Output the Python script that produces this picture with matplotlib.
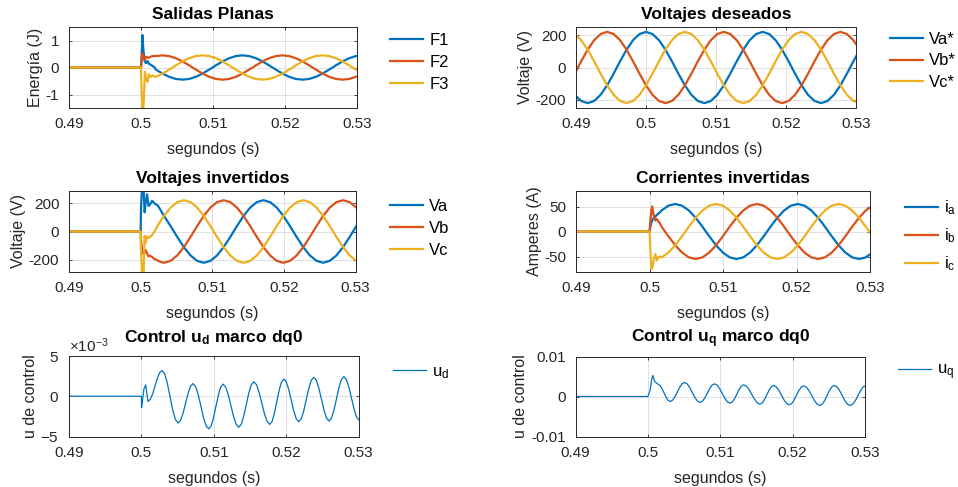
import matplotlib
matplotlib.use('Agg')
import matplotlib.pyplot as plt
from matplotlib.ticker import ScalarFormatter

plt.rcParams['font.family'] = ['Liberation Sans', 'DejaVu Sans']
plt.rcParams['mathtext.fontset'] = 'custom'
plt.rcParams['mathtext.rm'] = 'Liberation Sans'
plt.rcParams['mathtext.it'] = 'Liberation Sans:italic'
plt.rcParams['mathtext.bf'] = 'Liberation Sans:bold'
plt.rcParams['axes.unicode_minus'] = False

# colores por defecto de MATLAB
azul, rojo, amarillo = '#0072BD', '#D95319', '#EDB120'

xticks = [0.49, 0.5, 0.51, 0.52, 0.53]
xtick_labels = ['0.49', '0.5', '0.51', '0.52', '0.53']

# ---------------- Salidas planas ----------------
t_tr_f = [0.49, 0.5, 0.50008, 0.5002, 0.50032, 0.50045, 0.50056, 0.5007, 0.5009, 0.5011, 0.5013, 0.5016, 0.5019]
F1_tr = [0, 0, 0.4, 1.2, 0.7, 0.35, 0.2, 0.16, 0.24, 0.14, 0.11, 0.06, 0.0]
F2_tr = [0, 0, 0.25, 0.52, 0.38, 0.28, 0.3, 0.4, 0.37, 0.36, 0.4, 0.42, 0.43]
F3_tr = [0, 0, -0.9, -1.6, -1.6, -0.8, -0.16, -0.4, -0.53, -0.25, -0.35, -0.3, -0.33]
t_f = [0.502063, 0.502989, 0.503915, 0.504841, 0.505767, 0.506693, 0.507619, 0.508544,
       0.509470, 0.510396, 0.511322, 0.512248, 0.513174, 0.514100, 0.515026, 0.515952,
       0.516878, 0.517804, 0.518730, 0.519656, 0.520581, 0.521507, 0.522433, 0.523359,
       0.524285, 0.525211, 0.526137, 0.527063, 0.527989, 0.528915, 0.529841, 0.530767]
F1 = [-0.078, -0.225, -0.345, -0.423, -0.45, -0.423, -0.345, -0.225, -0.078, 0.078, 0.225,
      0.345, 0.423, 0.45, 0.423, 0.345, 0.225, 0.078, -0.078, -0.225, -0.345, -0.423, -0.45,
      -0.423, -0.345, -0.225, -0.078, 0.078, 0.225, 0.345, 0.423, 0.45]
F2 = [0.423, 0.45, 0.423, 0.345, 0.225, 0.078, -0.078, -0.225, -0.345, -0.423, -0.45, -0.423,
      -0.345, -0.225, -0.078, 0.078, 0.225, 0.345, 0.423, 0.45, 0.423, 0.345, 0.225, 0.078,
      -0.078, -0.225, -0.345, -0.423, -0.45, -0.423, -0.345, -0.225]
F3 = [-0.345, -0.225, -0.078, 0.078, 0.225, 0.345, 0.423, 0.45, 0.423, 0.345, 0.225, 0.078,
      -0.078, -0.225, -0.345, -0.423, -0.45, -0.423, -0.345, -0.225, -0.078, 0.078, 0.225,
      0.345, 0.423, 0.45, 0.423, 0.345, 0.225, 0.078, -0.078, -0.225]

# ---------------- Voltajes deseados ----------------
t_vd = [0.489815, 0.490741, 0.491667, 0.492593, 0.493519, 0.494444, 0.495370, 0.496296,
        0.497222, 0.498148, 0.499074, 0.500000, 0.500926, 0.501852, 0.502778, 0.503704,
        0.504630, 0.505556, 0.506481, 0.507407, 0.508333, 0.509259, 0.510185, 0.511111,
        0.512037, 0.512963, 0.513889, 0.514815, 0.515741, 0.516667, 0.517593, 0.518519,
        0.519444, 0.520370, 0.521296, 0.522222, 0.523148, 0.524074, 0.525000, 0.525926,
        0.526852, 0.527778, 0.528704, 0.529630, 0.530556]
Va_ref = [-168.5, -206.7, -220, -206.7, -168.5, -110, -38.2, 38.2, 110, 168.5, 206.7, 220,
          206.7, 168.5, 110, 38.2, -38.2, -110, -168.5, -206.7, -220, -206.7, -168.5, -110,
          -38.2, 38.2, 110, 168.5, 206.7, 220, 206.7, 168.5, 110, 38.2, -38.2, -110, -168.5,
          -206.7, -220, -206.7, -168.5, -110, -38.2, 38.2, 110]
Vb_ref = [-38.2, 38.2, 110, 168.5, 206.7, 220, 206.7, 168.5, 110, 38.2, -38.2, -110, -168.5,
          -206.7, -220, -206.7, -168.5, -110, -38.2, 38.2, 110, 168.5, 206.7, 220, 206.7,
          168.5, 110, 38.2, -38.2, -110, -168.5, -206.7, -220, -206.7, -168.5, -110, -38.2,
          38.2, 110, 168.5, 206.7, 220, 206.7, 168.5, 110]
Vc_ref = [206.7, 168.5, 110, 38.2, -38.2, -110, -168.5, -206.7, -220, -206.7, -168.5, -110,
          -38.2, 38.2, 110, 168.5, 206.7, 220, 206.7, 168.5, 110, 38.2, -38.2, -110, -168.5,
          -206.7, -220, -206.7, -168.5, -110, -38.2, 38.2, 110, 168.5, 206.7, 220, 206.7,
          168.5, 110, 38.2, -38.2, -110, -168.5, -206.7, -220]

# ---------------- Voltajes invertidos ----------------
t_tr_v = [0.49, 0.5, 0.50005, 0.5002, 0.5004, 0.50056, 0.5007, 0.5009, 0.5011, 0.5013, 0.5016, 0.502, 0.5024, 0.5028]
Va_tr = [0, 0, 150, 320, 320, 135, 200, 262, 180, 190, 216, 195, 183, 150]
Vb_tr = [0, 0, -60, -120, -160, -150, -130, -155, -175, -170, -180, -195, -205, -215]
Vc_tr = [0, 0, -120, -320, -320, -30, -80, -35, -45, -40, -25, 5, 43, 75]
t_v = [0.503261, 0.504187, 0.505113, 0.506039, 0.506965, 0.507891, 0.508817, 0.509743,
       0.510669, 0.511594, 0.512520, 0.513446, 0.514372, 0.515298, 0.516224, 0.517150,
       0.518076, 0.519002, 0.519928, 0.520854, 0.521780, 0.522706, 0.523631, 0.524557,
       0.525483, 0.526409, 0.527335, 0.528261, 0.529187, 0.530113]
Va = [110, 38.2, -38.2, -110, -168.5, -206.7, -220, -206.7, -168.5, -110, -38.2, 38.2, 110,
      168.5, 206.7, 220, 206.7, 168.5, 110, 38.2, -38.2, -110, -168.5, -206.7, -220, -206.7,
      -168.5, -110, -38.2, 38.2]
Vb = [-220, -206.7, -168.5, -110, -38.2, 38.2, 110, 168.5, 206.7, 220, 206.7, 168.5, 110,
      38.2, -38.2, -110, -168.5, -206.7, -220, -206.7, -168.5, -110, -38.2, 38.2, 110, 168.5,
      206.7, 220, 206.7, 168.5]
Vc = [110, 168.5, 206.7, 220, 206.7, 168.5, 110, 38.2, -38.2, -110, -168.5, -206.7, -220,
      -206.7, -168.5, -110, -38.2, 38.2, 110, 168.5, 206.7, 220, 206.7, 168.5, 110, 38.2,
      -38.2, -110, -168.5, -206.7]

# ---------------- Corrientes invertidas ----------------
t_tr_i = [0.49, 0.5, 0.5001, 0.50025, 0.50036, 0.5006, 0.5008, 0.501, 0.5012, 0.5014]
ia_tr = [0, 0, 8, 18, 22, 28, 30, 33, 36, 38]
ib_tr = [0, 0, 20, 42, 50, 30, 22, 25, 20, 17]
ic_tr = [0, 0, -30, -72, -75, -55, -45, -58, -52, -50]
t_i = [0.501648, 0.502574, 0.503500, 0.504426, 0.505352, 0.506278, 0.507204, 0.508130,
       0.509056, 0.509981, 0.510907, 0.511833, 0.512759, 0.513685, 0.514611, 0.515537,
       0.516463, 0.517389, 0.518315, 0.519241, 0.520167, 0.521093, 0.522019, 0.522944,
       0.523870, 0.524796, 0.525722, 0.526648, 0.527574, 0.528500, 0.529426, 0.530352]
ia = [42.1, 51.7, 55, 51.7, 42.1, 27.5, 9.6, -9.6, -27.5, -42.1, -51.7, -55, -51.7, -42.1,
      -27.5, -9.6, 9.6, 27.5, 42.1, 51.7, 55, 51.7, 42.1, 27.5, 9.6, -9.6, -27.5, -42.1,
      -51.7, -55, -51.7, -42.1]
ib = [9.6, -9.6, -27.5, -42.1, -51.7, -55, -51.7, -42.1, -27.5, -9.6, 9.6, 27.5, 42.1, 51.7,
      55, 51.7, 42.1, 27.5, 9.6, -9.6, -27.5, -42.1, -51.7, -55, -51.7, -42.1, -27.5, -9.6,
      9.6, 27.5, 42.1, 51.7]
ic = [-51.7, -42.1, -27.5, -9.6, 9.6, 27.5, 42.1, 51.7, 55, 51.7, 42.1, 27.5, 9.6, -9.6,
      -27.5, -42.1, -51.7, -55, -51.7, -42.1, -27.5, -9.6, 9.6, 27.5, 42.1, 51.7, 55, 51.7,
      42.1, 27.5, 9.6, -9.6]

# ---------------- Control ud (x1e-3) ----------------
t_ud = [0.49, 0.5, 0.50003, 0.50015, 0.50035, 0.5006, 0.50075,
        0.50092, 0.501243, 0.501567, 0.50189, 0.502213, 0.502537,
        0.50286, 0.503228, 0.503597, 0.503965, 0.504333, 0.504702,
        0.50507, 0.505415, 0.50576, 0.506105, 0.50645, 0.506795,
        0.50714, 0.507502, 0.507863, 0.508225, 0.508587, 0.508948,
        0.50931, 0.50964, 0.50997, 0.5103, 0.51063, 0.51096,
        0.51129, 0.511652, 0.512013, 0.512375, 0.512737, 0.513098,
        0.51346, 0.513805, 0.51415, 0.514495, 0.51484, 0.515185,
        0.51553, 0.515898, 0.516267, 0.516635, 0.517003, 0.517372,
        0.51774, 0.518063, 0.518387, 0.51871, 0.519033, 0.519357,
        0.51968, 0.520025, 0.52037, 0.520715, 0.52106, 0.521405,
        0.52175, 0.522095, 0.52244, 0.522785, 0.52313, 0.523475,
        0.52382, 0.524173, 0.524527, 0.52488, 0.525233, 0.525587,
        0.52594, 0.526278, 0.526617, 0.526955, 0.527293, 0.527632,
        0.52797, 0.528328, 0.528687, 0.529045, 0.529403, 0.529762, 0.53012]
ud = [0, 0, -1.4, -0.6, 0.9, 1.41, 0.4,
      -0.64, -0.383, 0.32, 1.28, 2.24, 2.943,
      3.2, 2.762, 1.568, -0.065, -1.698, -2.892,
      -3.33, -3.001, -2.103, -0.875, 0.353, 1.251,
      1.58, 1.202, 0.17, -1.24, -2.65, -3.682,
      -4.06, -3.687, -2.67, -1.28, 0.11, 1.127,
      1.5, 1.142, 0.163, -1.175, -2.513, -3.492,
      -3.85, -3.471, -2.438, -1.025, 0.388, 1.421,
      1.8, 1.445, 0.475, -0.85, -2.175, -3.145,
      -3.5, -3.122, -2.09, -0.68, 0.73, 1.762,
      2.14, 1.785, 0.815, -0.51, -1.835, -2.805,
      -3.16, -2.791, -1.783, -0.405, 0.973, 1.981,
      2.35, 1.986, 0.993, -0.365, -1.723, -2.716,
      -3.08, -2.71, -1.7, -0.32, 1.06, 2.07,
      2.44, 2.076, 1.08, -0.28, -1.64, -2.636, -3.0]

# ---------------- Control uq (x1e-3) ----------------
t_uq = [0.49, 0.5, 0.5003, 0.50055, 0.50069, 0.50085, 0.50101, 0.5012,
        0.50138, 0.501663, 0.501947, 0.50223, 0.502513, 0.502797,
        0.50308, 0.50341, 0.50374, 0.50407, 0.5044, 0.50473,
        0.50506, 0.50542, 0.50578, 0.50614, 0.5065, 0.50686,
        0.50722, 0.50755, 0.50788, 0.50821, 0.50854, 0.50887,
        0.5092, 0.50956, 0.50992, 0.51028, 0.51064, 0.511,
        0.51136, 0.511673, 0.511987, 0.5123, 0.512613, 0.512927,
        0.51324, 0.513615, 0.51399, 0.514365, 0.51474, 0.515115,
        0.51549, 0.515805, 0.51612, 0.516435, 0.51675, 0.517065,
        0.51738, 0.51774, 0.5181, 0.51846, 0.51882, 0.51918,
        0.51954, 0.51987, 0.5202, 0.52053, 0.52086, 0.52119,
        0.52152, 0.521895, 0.52227, 0.522645, 0.52302, 0.523395,
        0.52377, 0.5241, 0.52443, 0.52476, 0.52509, 0.52542,
        0.52575, 0.526117, 0.526483, 0.52685, 0.527217, 0.527583,
        0.52795, 0.528308, 0.528667, 0.529025, 0.529383, 0.529742, 0.5301]
uq = [0, 0, 1.5, 4.5, 5.25, 4.2, 3.6, 3.4,
      3.1, 2.809, 2.013, 0.925, -0.163, -0.959,
      -1.25, -0.932, -0.063, 1.125, 2.313, 3.182,
      3.5, 3.165, 2.25, 1.0, -0.25, -1.165,
      -1.5, -1.187, -0.333, 0.835, 2.003, 2.857,
      3.17, 2.846, 1.96, 0.75, -0.46, -1.346,
      -1.67, -1.363, -0.523, 0.625, 1.773, 2.613,
      2.92, 2.596, 1.71, 0.5, -0.71, -1.596,
      -1.92, -1.607, -0.753, 0.415, 1.583, 2.437,
      2.75, 2.426, 1.543, 0.335, -0.873, -1.756,
      -2.08, -1.762, -0.893, 0.295, 1.483, 2.352,
      2.67, 2.34, 1.44, 0.21, -1.02, -1.92,
      -2.25, -1.915, -1.0, 0.25, 1.5, 2.415,
      2.75, 2.415, 1.5, 0.25, -1.0, -1.915,
      -2.25, -1.918, -1.013, 0.225, 1.463, 2.368, 2.7]

W, H = 958, 487
fig = plt.figure(figsize=(W / 100, H / 100), dpi=100)


def ejes(left, top, right, bottom):
    # posicion en pixeles de la figura
    return fig.add_axes([left / W, 1 - bottom / H, (right - left) / W, (bottom - top) / H])


def estilo(ax, titulo, ylabel, yticks, ylabels, ylim, tpad=6):
    ax.set_xlim(0.49, 0.53)
    ax.set_ylim(*ylim)
    ax.set_xticks(xticks, xtick_labels)
    if ylabels is not None:
        ax.set_yticks(yticks, ylabels)
    else:
        ax.set_yticks(yticks)
    ax.grid(True, color='#E0E0E0', linewidth=0.7)
    ax.set_axisbelow(True)
    ax.tick_params(direction='in', length=2.5, width=0.6, top=True, right=True,
                   labelsize=11, colors='#262626')
    ax.tick_params(axis='x', pad=6.5)
    ax.tick_params(axis='y', pad=7)
    for s in ax.spines.values():
        s.set_color('#262626')
        s.set_linewidth(0.7)
    ax.set_title(titulo, fontsize=12.5, fontweight='bold', pad=tpad)
    ax.set_xlabel('segundos (s)', fontsize=11.5, color='#262626', labelpad=8)
    ax.set_ylabel(ylabel, fontsize=11.5, color='#262626', labelpad=2)


def leyenda(ax, x, y, esp=0.41):
    ax.legend(loc='center left', bbox_to_anchor=(x / W, 1 - y / H), bbox_transform=fig.transFigure,
              frameon=False, fontsize=12, handlelength=2.0, handletextpad=0.35,
              labelspacing=esp, borderpad=0, borderaxespad=0)


lw = 1.6

# Salidas planas
ax1 = ejes(69, 27, 357, 108)
ax1.plot(t_tr_f + t_f, F1_tr + F1, color=azul, lw=lw, label='F1')
ax1.plot(t_tr_f + t_f, F2_tr + F2, color=rojo, lw=lw, label='F2')
ax1.plot(t_tr_f + t_f, F3_tr + F3, color=amarillo, lw=lw, label='F3')
estilo(ax1, 'Salidas Planas', 'Energía (J)', [-1, 0, 1], ['-1', '0', '1'], (-1.5, 1.5))
leyenda(ax1, 390, 62.5)

# Voltajes deseados
ax2 = ejes(576, 27, 856, 108)
ax2.plot(t_vd, Va_ref, color=azul, lw=lw, label='Va*')
ax2.plot(t_vd, Vb_ref, color=rojo, lw=lw, label='Vb*')
ax2.plot(t_vd, Vc_ref, color=amarillo, lw=lw, label='Vc*')
estilo(ax2, 'Voltajes deseados', 'Voltaje (V)', [-200, 0, 200], ['-200', '0', '200'], (-250, 250))
leyenda(ax2, 890, 61)

# Voltajes invertidos
ax3 = ejes(69, 191, 355.5, 272)
ax3.plot(t_tr_v + t_v, Va_tr + Va, color=azul, lw=lw, label='Va')
ax3.plot(t_tr_v + t_v, Vb_tr + Vb, color=rojo, lw=lw, label='Vb')
ax3.plot(t_tr_v + t_v, Vc_tr + Vc, color=amarillo, lw=lw, label='Vc')
estilo(ax3, 'Voltajes invertidos', 'Voltaje (V)', [-200, 0, 200], ['-200', '0', '200'], (-285, 285))
leyenda(ax3, 390, 228.5)

# Corrientes invertidas
ax4 = ejes(576, 191, 870, 272)
ax4.plot(t_tr_i + t_i, ia_tr + ia, color=azul, lw=lw, label=r'i$_\mathrm{a}$')
ax4.plot(t_tr_i + t_i, ib_tr + ib, color=rojo, lw=lw, label=r'i$_\mathrm{b}$')
ax4.plot(t_tr_i + t_i, ic_tr + ic, color=amarillo, lw=lw, label=r'i$_\mathrm{c}$')
estilo(ax4, 'Corrientes invertidas', 'Amperes (A)', [-50, 0, 50], ['-50', '0', '50'], (-81, 81))
leyenda(ax4, 905, 236, esp=0.55)

# Control ud
ax5 = ejes(69, 356, 358.5, 436.5)
ax5.plot(t_ud, [v * 1e-3 for v in ud], color=azul, lw=0.9, label=r'u$_\mathrm{d}$')
estilo(ax5, r'Control u$_\mathbf{d}$ marco dq0', 'u de control', [-0.005, 0, 0.005], None,
       (-0.005, 0.005), tpad=10)
fmt = ScalarFormatter(useMathText=True)
fmt.set_powerlimits((0, 0))
ax5.yaxis.set_major_formatter(fmt)
ax5.yaxis.get_offset_text().set_fontsize(11)
ax5.yaxis.get_offset_text().set_color('#262626')
leyenda(ax5, 393, 372.3)

# Control uq
ax6 = ejes(575.5, 356.5, 865, 436.5)
ax6.plot(t_uq, [v * 1e-3 for v in uq], color=azul, lw=0.9, label=r'u$_\mathrm{q}$')
estilo(ax6, r'Control u$_\mathbf{q}$ marco dq0', 'u de control', [-0.01, 0, 0.01],
       ['-0.01', '0', '0.01'], (-0.01, 0.01), tpad=10)
leyenda(ax6, 898, 372.3)

fig.savefig('out.png', dpi=100)
